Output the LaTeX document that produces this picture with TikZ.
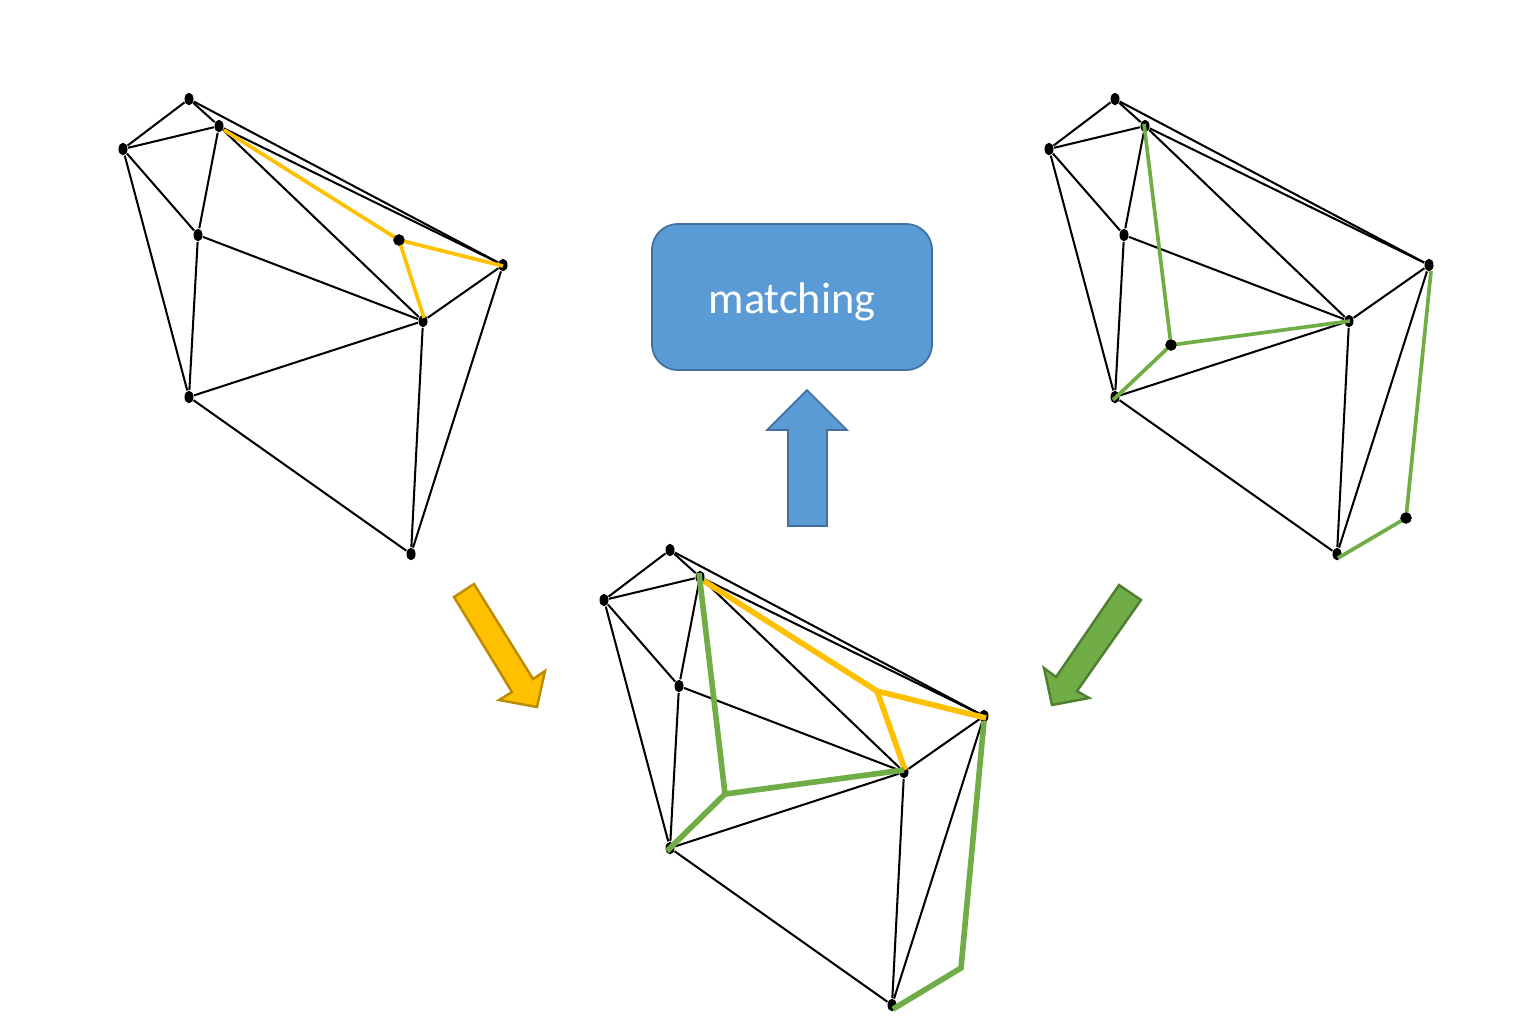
\documentclass[tikz,border=0pt]{standalone}
\usepackage{fontspec}
\setmainfont{Carlito}
\usetikzlibrary{shapes.geometric}
\definecolor{matchblue}{HTML}{5B9BD5}
\definecolor{matchblueline}{HTML}{41719C}
\definecolor{matchyellow}{HTML}{FFC000}
\definecolor{matchyellowline}{HTML}{BC8C00}
\definecolor{matchgreen}{HTML}{70AD47}
\definecolor{matchgreenline}{HTML}{507E32}
\tikzset{
    vertex/.style={ellipse,fill=black,inner sep=0pt,minimum width=0.9mm,minimum height=1.25mm},
    bigvertex/.style={circle,fill=black,inner sep=0pt,minimum size=3.2pt},
    edge/.style={draw=black,line width=0.58pt},
    thinyellow/.style={draw=matchyellow,line width=1.05pt},
    thinGreen/.style={draw=matchgreen,line width=1.05pt},
    thickyellow/.style={draw=matchyellow,line width=1.6pt},
    thickGreen/.style={draw=matchgreen,line width=1.6pt},
    blockblue/.style={fill=matchblue,draw=matchblueline,line width=0.5pt},
    blockyellow/.style={fill=matchyellow,draw=matchyellowline,line width=0.7pt},
    blockgreen/.style={fill=matchgreen,draw=matchgreenline,line width=0.7pt},
}
% one copy of the triangulation, shifted by the enclosing scope
\newcommand{\meshgraph}{
    \foreach \name/\xpos/\ypos in {a/189/99,b/219/126,c/123/149,d/198/235,e/423/321,f/503/265,g/189/397,h/411/554}
        \node[vertex] (\name) at (\xpos,\ypos) {};
    \foreach \from/\to in {a/c,a/b,a/f,c/b,c/d,c/g,b/d,b/f,b/e,d/e,d/g,g/e,e/f,e/h,g/h,f/h}
        \draw[edge] (\from) -- (\to);
}
\begin{document}
\begin{tikzpicture}[x=0.01cm,y=-0.01cm]
    \useasboundingbox (0,0) rectangle (1537,1020);

    % left
    \begin{scope}[name prefix=L-]
        \meshgraph
        \coordinate (ys) at (224,130);
        \coordinate (yf) at (503,266);
        \coordinate (ye) at (424,318);
        \node[bigvertex] (yp) at (399,240) {};
        \draw[thinyellow] (ys) -- (yp.center) -- (yf);
        \draw[thinyellow] (yp.center) -- (ye);
        \node[bigvertex] at (yp) {};
    \end{scope}

    % right
    \begin{scope}[name prefix=R-]
        \begin{scope}[shift={(926,0)}]
            \meshgraph
        \end{scope}
        \coordinate (gb) at (1144,124);
        \coordinate (ge) at (1350,321);
        \coordinate (gg) at (1113,400);
        \coordinate (gf) at (1431,271);
        \coordinate (gh) at (1338,558);
        \node[bigvertex] (gp) at (1171,345) {};
        \node[bigvertex] (gq) at (1406,518) {};
        \draw[thinGreen] (gb) -- (gp.center) -- (ge);
        \draw[thinGreen] (gp.center) -- (gg);
        \draw[thinGreen] (gf) -- (gq.center) -- (gh);
        \node[bigvertex] at (gp) {};
        \node[bigvertex] at (gq) {};
    \end{scope}

    % bottom
    \begin{scope}[name prefix=B-]
        \begin{scope}[shift={(481,451)}]
            \meshgraph
        \end{scope}
        \coordinate (gb) at (699,573);
        \coordinate (gp) at (725,794);
        \coordinate (ge) at (904,770);
        \coordinate (gg) at (667,851);
        \coordinate (gf) at (984,721);
        \coordinate (gq) at (961,968);
        \coordinate (gh) at (893,1009);
        \coordinate (ys) at (704,581);
        \coordinate (yp) at (877,691);
        \coordinate (yf) at (986,718);
        \coordinate (ye) at (905,770);
        \draw[thickyellow] (ys) -- (yp) -- (yf);
        \draw[thickyellow] (yp) -- (ye);
        \draw[thickGreen] (gb) -- (gp) -- (ge);
        \draw[thickGreen] (gp) -- (gg);
        \draw[thickGreen] (gf) -- (gq) -- (gh);
    \end{scope}

    \node[blockblue,rounded corners=0.26cm,minimum width=2.8cm,minimum height=1.46cm,inner sep=0pt,
        text=white,text height=11.5pt,text depth=2.4pt,font=\fontsize{12.6}{15}\selectfont] (matchbox) at (792,297) {matching};

    \draw[blockblue] (807,390) -- (847,430) -- (827,430) -- (827,526) -- (788,526) -- (788,430) -- (767,430) -- cycle;
    \draw[blockyellow] (454,597) -- (474,584) -- (533,679) -- (545,671) -- (537,707) -- (499,700) -- (512,692) -- cycle;
    \draw[blockgreen] (1119,585) -- (1141,600) -- (1077,691) -- (1089,698) -- (1052,705) -- (1044,668) -- (1056,677) -- cycle;
\end{tikzpicture}
\end{document}
